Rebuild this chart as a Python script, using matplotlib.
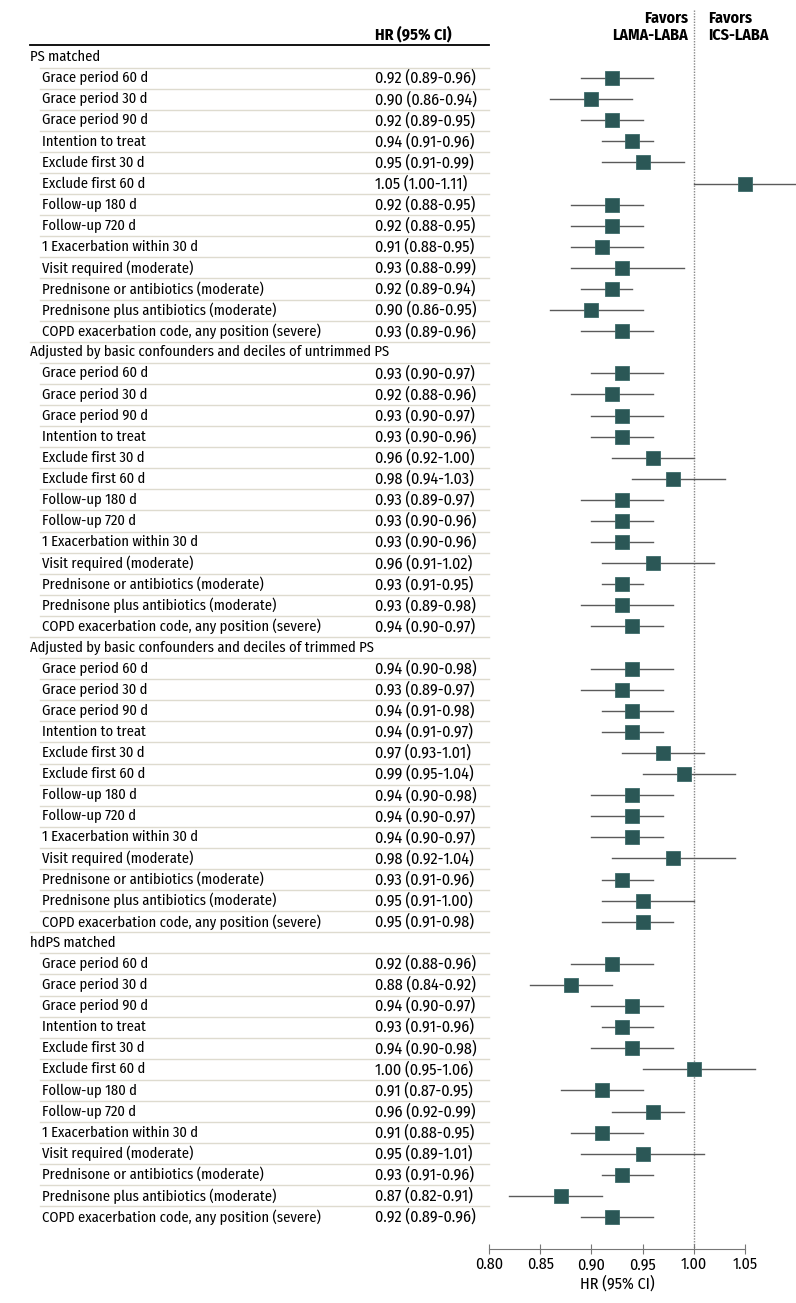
import matplotlib
matplotlib.use("Agg")
import matplotlib.pyplot as plt
from matplotlib.transforms import blended_transform_factory

plt.rcParams['font.family'] = ['Fira Sans Condensed', 'DejaVu Sans']

groups = [
    "PS matched",
    "Adjusted by basic confounders and deciles of untrimmed PS",
    "Adjusted by basic confounders and deciles of trimmed PS",
    "hdPS matched",
]
analyses = [
    "Grace period 60 d", "Grace period 30 d", "Grace period 90 d",
    "Intention to treat", "Exclude first 30 d", "Exclude first 60 d",
    "Follow-up 180 d", "Follow-up 720 d", "1 Exacerbation within 30 d",
    "Visit required (moderate)", "Prednisone or antibiotics (moderate)",
    "Prednisone plus antibiotics (moderate)",
    "COPD exacerbation code, any position (severe)",
]

hr_ps = [0.92, 0.90, 0.92, 0.94, 0.95, 1.05, 0.92, 0.92, 0.91, 0.93, 0.92, 0.90, 0.93]
lo_ps = [0.89, 0.86, 0.89, 0.91, 0.91, 1.00, 0.88, 0.88, 0.88, 0.88, 0.89, 0.86, 0.89]
hi_ps = [0.96, 0.94, 0.95, 0.96, 0.99, 1.11, 0.95, 0.95, 0.95, 0.99, 0.94, 0.95, 0.96]

hr_untrim = [0.93, 0.92, 0.93, 0.93, 0.96, 0.98, 0.93, 0.93, 0.93, 0.96, 0.93, 0.93, 0.94]
lo_untrim = [0.90, 0.88, 0.90, 0.90, 0.92, 0.94, 0.89, 0.90, 0.90, 0.91, 0.91, 0.89, 0.90]
hi_untrim = [0.97, 0.96, 0.97, 0.96, 1.00, 1.03, 0.97, 0.96, 0.96, 1.02, 0.95, 0.98, 0.97]

hr_trim = [0.94, 0.93, 0.94, 0.94, 0.97, 0.99, 0.94, 0.94, 0.94, 0.98, 0.93, 0.95, 0.95]
lo_trim = [0.90, 0.89, 0.91, 0.91, 0.93, 0.95, 0.90, 0.90, 0.90, 0.92, 0.91, 0.91, 0.91]
hi_trim = [0.98, 0.97, 0.98, 0.97, 1.01, 1.04, 0.98, 0.97, 0.97, 1.04, 0.96, 1.00, 0.98]

hr_hdps = [0.92, 0.88, 0.94, 0.93, 0.94, 1.00, 0.91, 0.96, 0.91, 0.95, 0.93, 0.87, 0.92]
lo_hdps = [0.88, 0.84, 0.90, 0.91, 0.90, 0.95, 0.87, 0.92, 0.88, 0.89, 0.91, 0.82, 0.89]
hi_hdps = [0.96, 0.92, 0.97, 0.96, 0.98, 1.06, 0.95, 0.99, 0.95, 1.01, 0.96, 0.91, 0.96]

all_hr = [hr_ps, hr_untrim, hr_trim, hr_hdps]
all_lo = [lo_ps, lo_untrim, lo_trim, lo_hdps]
all_hi = [hi_ps, hi_untrim, hi_trim, hi_hdps]

xticks = [0.80, 0.85, 0.90, 0.95, 1.00, 1.05]

W, H = 796, 1303
fig = plt.figure(figsize=(W / 100, H / 100), dpi=100)
row0, step = 57, 21.09
axis_px = 1249
ax = fig.add_axes([489 / W, (H - axis_px) / H, 307 / W, axis_px / H])
ax.set_xlim(0.80, 1.0998)
ax.set_ylim((axis_px - row0) / step, -row0 / step)

trans = blended_transform_factory(fig.transFigure, ax.transData)
box = '#2b5756'
sep = '#dedbcf'
fs = 10.5
fs_num = 11.5

row = 0
for g, name in enumerate(groups):
    ax.text(30 / W, row, name, transform=trans, ha='left', va='center',
            fontsize=fs, clip_on=False)
    if row > 0:
        ax.plot([30 / W, 489 / W], [row - 0.5, row - 0.5], transform=trans,
                color=sep, lw=1, clip_on=False)
    ax.plot([40 / W, 489 / W], [row + 0.5, row + 0.5], transform=trans,
            color=sep, lw=1, clip_on=False)
    row += 1
    for i, lab in enumerate(analyses):
        hr, lo, hi = all_hr[g][i], all_lo[g][i], all_hi[g][i]
        ax.text(42 / W, row, lab, transform=trans, ha='left', va='center',
                fontsize=fs, clip_on=False)
        ax.text(375 / W, row, f"{hr:.2f} ({lo:.2f}-{hi:.2f})", transform=trans,
                ha='left', va='center', fontsize=fs_num, clip_on=False)
        if i < len(analyses) - 1:
            ax.plot([40 / W, 489 / W], [row + 0.5, row + 0.5], transform=trans,
                    color=sep, lw=1, clip_on=False)
        ax.plot([lo, hi], [row, row], color='#5a5a5a', lw=1, zorder=2)
        ax.plot([hr], [row], marker='s', ms=9.5, color=box, mec='#3d6b6a',
                mew=0.6, zorder=3)
        row += 1

# header
ax.text(375 / W, -1.05, "HR (95% CI)", transform=trans, ha='left', va='center',
        fontsize=fs_num, fontweight='bold', clip_on=False)
ax.plot([30 / W, 489 / W], [-0.57, -0.57], transform=trans, color='black',
        lw=1.3, clip_on=False)
ax.text(688 / W, -1.42, "Favors\nLAMA-LABA", transform=trans, ha='right',
        va='center', fontsize=fs_num, fontweight='bold', linespacing=1.1,
        clip_on=False)
ax.text(708 / W, -1.42, "Favors\nICS-LABA", transform=trans, ha='left',
        va='center', fontsize=fs_num, fontweight='bold', linespacing=1.1,
        clip_on=False)

ax.plot([1.0, 1.0], [-2.25, ax.get_ylim()[0]], color='#888888', lw=1,
        linestyle=(0, (1, 1)), clip_on=False, zorder=1)

for s in ['top', 'right', 'left']:
    ax.spines[s].set_visible(False)
ax.spines['bottom'].set_color('#777777')
ax.spines['bottom'].set_bounds(0.80, 1.05)
ax.set_yticks([])
ax.set_xticks(xticks)
ax.set_xticklabels([f"{t:.2f}" for t in xticks], fontsize=fs_num)
ax.tick_params(axis='x', direction='inout', length=7, color='#777777', pad=2)
ax.set_xlabel("HR (95% CI)", fontsize=fs_num)
ax.xaxis.set_label_coords((0.925 - 0.80) / (1.0998 - 0.80), -0.021)
ax.patch.set_alpha(0)

fig.savefig("out.png", dpi=100)
